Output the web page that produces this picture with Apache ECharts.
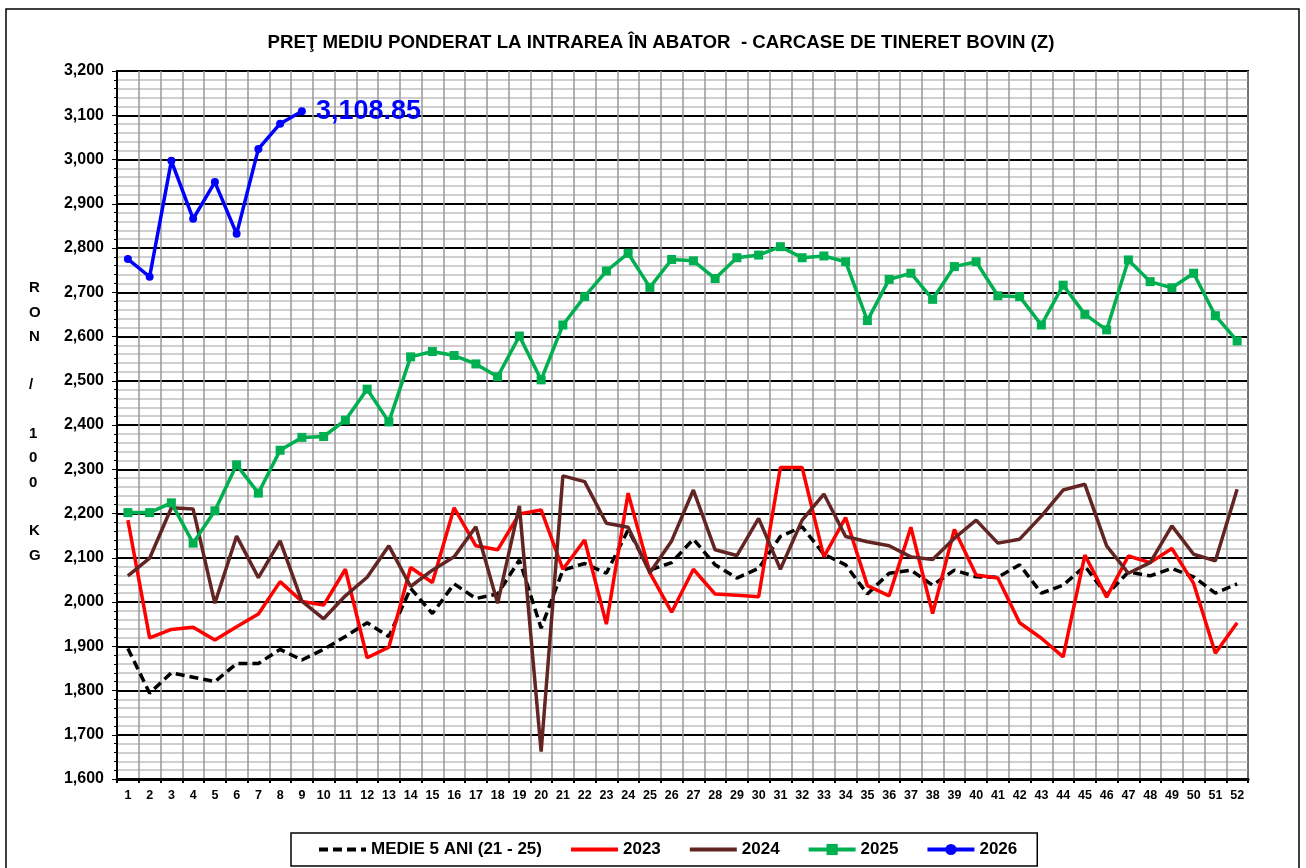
<!DOCTYPE html>
<html>
<head>
<meta charset="utf-8">
<script src="https://cdn.jsdelivr.net/npm/echarts@6/dist/echarts.min.js"></script>
<style>
  html, body { margin: 0; padding: 0; background: #fff; }
  #chart { width: 1306px; height: 868px; }
</style>
</head>
<body>
<div id="chart"></div>
<script>
// saptamanile anului
var weeks = ['1','2','3','4','5','6','7','8','9','10','11','12','13','14','15','16','17','18','19','20',
  '21','22','23','24','25','26','27','28','29','30','31','32','33','34','35','36','37','38','39','40',
  '41','42','43','44','45','46','47','48','49','50','51','52'];

var medie5 = [1895,1794,1840,1830,1820,1861,1861,1893,1869,1893,1922,1953,1922,2031,1974,2041,2008,2018,2095,1941,
  2072,2087,2065,2163,2072,2089,2142,2084,2054,2076,2148,2170,2108,2084,2018,2065,2072,2038,2072,2057,
  2056,2084,2020,2038,2081,2016,2068,2059,2076,2057,2020,2041];

var y2023 = [2185,1919,1938,1943,1914,1944,1973,2046,2001,1993,2074,1874,1898,2078,2044,2213,2127,2118,2199,2208,
  2074,2140,1950,2246,2066,1977,2074,2018,2015,2012,2304,2304,2102,2191,2037,2014,2169,1974,2164,2061,
  2054,1953,1918,1876,2106,2011,2104,2089,2121,2042,1884,1953];

var y2024 = [2059,2099,2213,2210,1997,2149,2055,2138,2002,1962,2014,2056,2127,2035,2072,2102,2170,1997,2217,1662,
  2285,2272,2178,2169,2066,2138,2253,2118,2105,2189,2074,2185,2244,2148,2136,2127,2102,2096,2144,2185,
  2133,2142,2194,2253,2266,2127,2065,2089,2172,2108,2093,2255];

var y2025 = [2202,2202,2224,2133,2206,2310,2246,2343,2372,2374,2411,2481,2407,2554,2566,2557,2538,2509,2601,2502,
  2626,2690,2748,2788,2711,2774,2771,2731,2778,2784,2803,2778,2782,2769,2636,2729,2743,2684,2758,2769,
  2692,2690,2626,2716,2650,2615,2773,2724,2710,2743,2647,2590];

var y2026 = [2775,2735,2997,2866,2949,2832,3024,3081,3108.85];

var fmt = function (v) {
  return Number(v).toLocaleString('en-US');
};

// ultimul punct 2026 primeste eticheta
var data2026 = y2026.map(function (v, i) {
  if (i === y2026.length - 1) {
    return {
      value: v,
      label: {
        show: true,
        position: 'right',
        distance: 10,
        color: '#0000ff',
        fontSize: 27,
        fontWeight: 'bold',
        fontFamily: 'Liberation Sans, Arial, sans-serif',
        formatter: function (p) {
          return p.value.toLocaleString('en-US', { minimumFractionDigits: 2 });
        }
      }
    };
  }
  return v;
});

var chart = echarts.init(document.getElementById('chart'));

var option = {
  backgroundColor: '#fff',
  animation: false,
  title: {
    text: 'PREŢ MEDIU PONDERAT LA INTRAREA ÎN ABATOR  - CARCASE DE TINERET BOVIN (Z)',
    left: 656,
    textAlign: 'center',
    top: 28,
    textStyle: {
      fontFamily: 'Liberation Sans, Arial, sans-serif',
      fontSize: 18.7,
      fontWeight: 'bold',
      color: '#000'
    }
  },
  legend: {
    left: 291,
    top: 833,
    padding: [8, 20, 8, 26],
    itemWidth: 47,
    itemHeight: 14,
    itemGap: 27,
    borderColor: '#000',
    borderWidth: 1.5,
    textStyle: {
      fontFamily: 'Liberation Sans, Arial, sans-serif',
      fontSize: 17,
      fontWeight: 'bold',
      color: '#000'
    },
    data: [
      { name: 'MEDIE 5 ANI (21 - 25)', itemStyle: { opacity: 0 }, lineStyle: { width: 4 } },
      { name: '2023', itemStyle: { opacity: 0 }, lineStyle: { width: 4 } },
      { name: '2024', itemStyle: { opacity: 0 }, lineStyle: { width: 4 } },
      { name: '2025', lineStyle: { width: 4 } },
      { name: '2026', lineStyle: { width: 4 } }
    ]
  },
  grid: {
    left: 117,
    top: 71,
    width: 1131,
    height: 708,
    show: true,
    borderColor: '#000',
    borderWidth: 2
  },
  graphic: [
    {
      type: 'rect',
      shape: { x: 6, y: 9, width: 1293, height: 900 },
      style: { fill: 'none', stroke: '#000', lineWidth: 1.5 },
      silent: true
    },
    {
      type: 'text',
      left: 29,
      top: 276,
      style: {
        text: 'R\nO\nN\n\n/\n\n1\n0\n0\n\nK\nG',
        font: 'bold 15px Liberation Sans, Arial, sans-serif',
        lineHeight: 24.3,
        fill: '#000',
        align: 'center'
      }
    }
  ],
  xAxis: {
    type: 'category',
    data: weeks,
    boundaryGap: true,
    axisLine: { lineStyle: { color: '#000', width: 3 } },
    axisTick: { show: true, interval: 0, length: 4, lineStyle: { color: '#000', width: 2 } },
    axisLabel: {
      interval: 0,
      margin: 10,
      color: '#000',
      fontSize: 12.5,
      fontWeight: 'bold',
      fontFamily: 'Liberation Sans, Arial, sans-serif'
    },
    splitLine: { show: true, interval: 0, lineStyle: { color: '#999', width: 1.5 } }
  },
  yAxis: {
    type: 'value',
    min: 1600,
    max: 3200,
    interval: 100,
    axisLine: { show: true, lineStyle: { color: '#000', width: 2 } },
    axisTick: { show: true, length: 5, lineStyle: { color: '#000' } },
    minorTick: { show: true, splitNumber: 5, length: 3, lineStyle: { color: '#000' } },
    axisLabel: {
      color: '#000',
      fontSize: 16,
      fontWeight: 'bold',
      margin: 13,
      fontFamily: 'Liberation Sans, Arial, sans-serif',
      formatter: fmt
    },
    splitLine: { show: true, lineStyle: { color: '#000', width: 2 } },
    minorSplitLine: { show: true, lineStyle: { color: '#c0c0c0', width: 1.5 } }
  },
  series: [
    {
      name: 'MEDIE 5 ANI (21 - 25)',
      type: 'line',
      data: medie5,
      symbol: 'none',
      lineStyle: { color: '#000', width: 3.5, type: [9, 5] },
      itemStyle: { color: '#000' }
    },
    {
      name: '2023',
      type: 'line',
      data: y2023,
      symbol: 'none',
      lineStyle: { color: '#ff0000', width: 3.5 },
      itemStyle: { color: '#ff0000' }
    },
    {
      name: '2024',
      type: 'line',
      data: y2024,
      symbol: 'none',
      lineStyle: { color: '#632523', width: 3.5 },
      itemStyle: { color: '#632523' }
    },
    {
      name: '2025',
      type: 'line',
      data: y2025,
      symbol: 'rect',
      symbolSize: 9,
      lineStyle: { color: '#00b050', width: 3.5 },
      itemStyle: { color: '#00b050' }
    },
    {
      name: '2026',
      type: 'line',
      data: data2026,
      symbol: 'circle',
      symbolSize: 8,
      lineStyle: { color: '#0000ff', width: 3.5 },
      itemStyle: { color: '#0000ff' }
    }
  ]
};

option && chart.setOption(option);
</script>
</body>
</html>
